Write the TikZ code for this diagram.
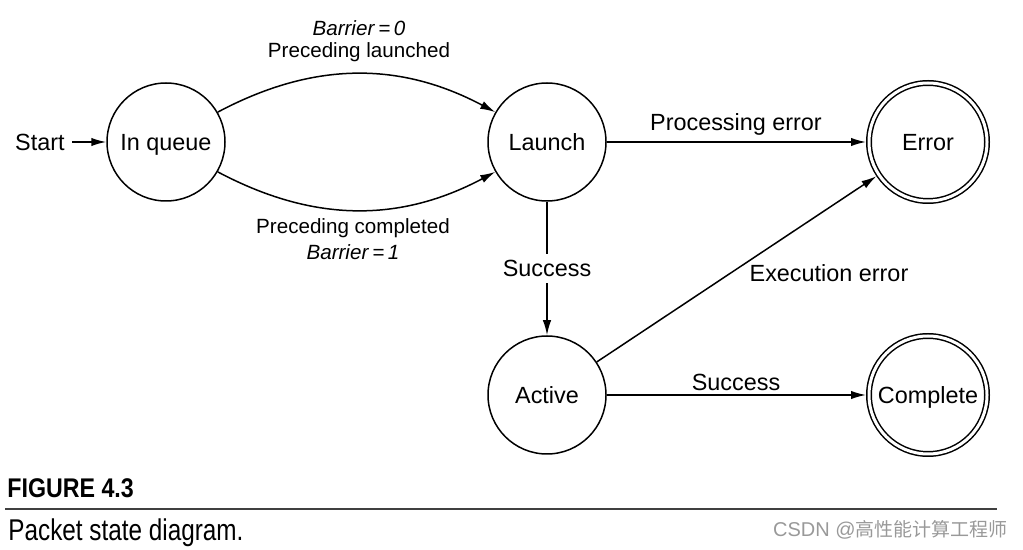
\documentclass[tikz,border=0pt]{standalone}
\usepackage{fontspec}
\setmainfont{Liberation Sans}
\newfontfamily\cjk{Noto Sans CJK SC}
\usetikzlibrary{arrows.meta}
\begin{document}
\begin{tikzpicture}[x=0.5pt,y=-0.5pt,
  font=\fontsize{11.7pt}{14pt}\selectfont,
  state/.style={circle,draw,line width=0.75pt,minimum size=59pt,inner sep=0pt,
    text height=8.4pt,text depth=0pt},
  accept/.style={state,double,double distance=1.5pt,outer sep=1.5pt},
  conn/.style={line width=0.75pt,-{Latex[length=7.5pt,width=4.2pt]}},
  lbl/.style={inner sep=1pt},
  small/.style={lbl,font=\fontsize{10.3pt}{12pt}\selectfont}]
\useasboundingbox (0,0) rectangle (1023,550);
\node[state] (q) at (166,142) {In queue};
\node[state] (l) at (547,142) {Launch};
\node[state] (a) at (547,395) {Active};
\node[accept] (e) at (928,142) {Error};
\node[accept] (c) at (928,395) {Complete};
\node[anchor=east,inner sep=3.5pt,text height=8.4pt,text depth=0pt] (s) at (72,142) {Start};
\draw[conn] (s) -- (q);
\draw[conn] (q.30) to[bend left=28] (l.150);
\draw[conn] (q.-30) to[bend right=28] (l.-150);
\draw[conn] (l) -- (e);
\draw[conn] (l) -- node[lbl,fill=white,inner sep=3pt] (ls) {Success} (a);
\draw[conn] (a) -- (e);
\draw[conn] (a) -- (c);
\node[small] (b0) at (359,28) {\textit{Barrier}\,=\,\textit{0}};
\node[small] (pl) at (359,52) {Preceding launched};
\node[small] (pc) at (353,228) {Preceding completed};
\node[small] (b1) at (353,252) {\textit{Barrier}\,=\,\textit{1}};
\node[lbl] (pe) at (736,124) {Processing error};
\node[lbl] (ee) at (829,273) {Execution error};
\node[lbl] (sc) at (736,382) {Success};
\node[anchor=base west,inner sep=0pt] (fig) at (7,498)
  {\fontsize{13.5pt}{15pt}\selectfont\bfseries\scalebox{0.86}[1]{FIGURE 4.3}};
\draw[line width=0.6pt,draw=black!75] (5,509) -- (997,509);
\node[anchor=base west,inner sep=0pt] (cap) at (8,540)
  {\fontsize{15pt}{17pt}\selectfont\scalebox{0.81}[1]{Packet state diagram.}};
\node[anchor=base east,inner sep=0pt,text=black!40] (wm) at (1008,537)
  {\fontsize{10pt}{12pt}\selectfont CSDN @{\cjk\fontsize{9.5pt}{12pt}\selectfont 高性能计算工程师}};
\end{tikzpicture}
\end{document}
